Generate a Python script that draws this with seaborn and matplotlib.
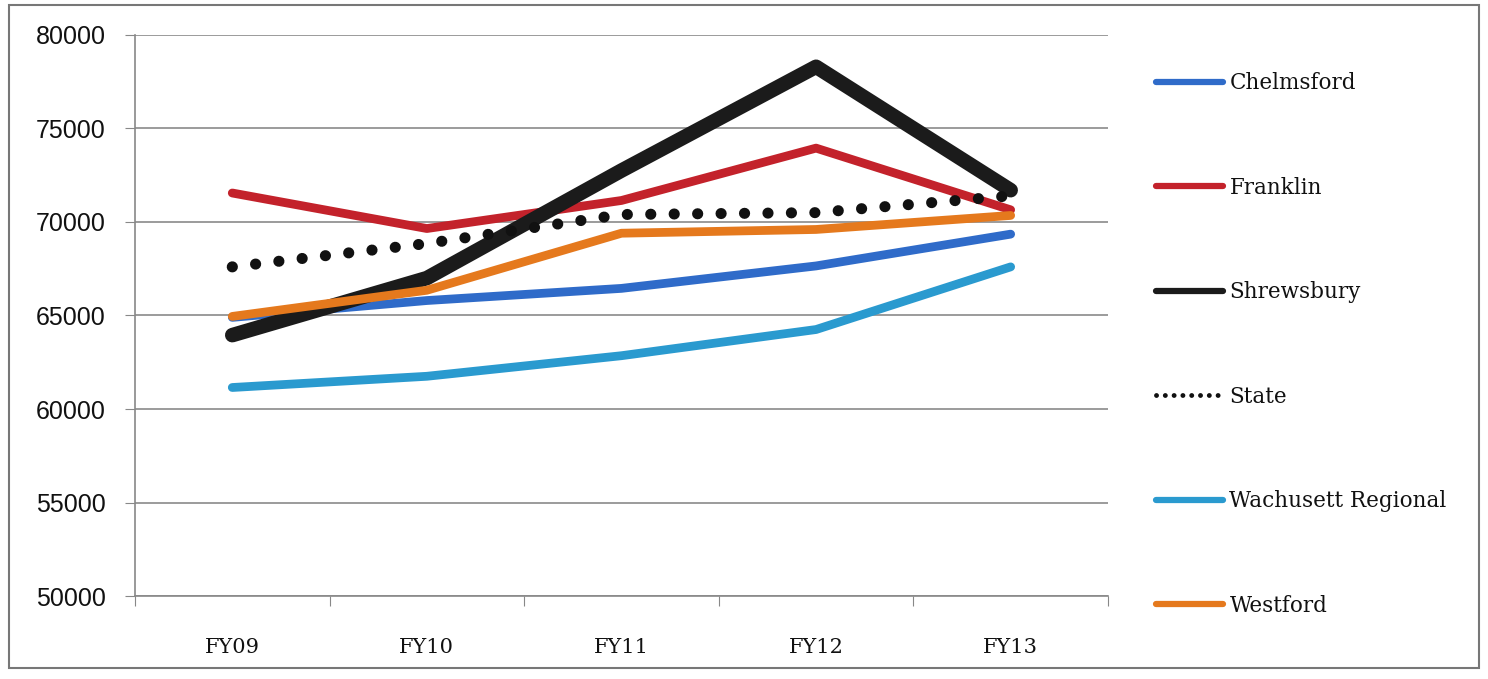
import pandas as pd
import seaborn as sns
import matplotlib.pyplot as plt
from matplotlib.lines import Line2D
from matplotlib.patches import Rectangle

# values
years = ["FY09", "FY10", "FY11", "FY12", "FY13"]
chelmsford = [64900, 65800, 66450, 67650, 69350]
franklin = [71550, 69650, 71150, 73950, 70650]
shrewsbury = [63950, 67000, 72750, 78300, 71700]
state = [67600, 68850, 70400, 70500, 71400]
wachusett = [61150, 61750, 62850, 64250, 67600]
westford = [64950, 66350, 69400, 69600, 70350]

names = ["Chelmsford", "Franklin", "Shrewsbury", "State", "Wachusett Regional", "Westford"]
series = [chelmsford, franklin, shrewsbury, state, wachusett, westford]
colors = ["#2F6BC9", "#C3222B", "#1B1B1B", "#111111", "#2A9ACF", "#E5791D"]

rows = []
for n, vals in zip(names, series):
    for i, v in enumerate(vals):
        rows.append({"district": n, "pos": i, "salary": v})
df = pd.DataFrame(rows)

sns.set_style("white")
plt.rcParams['font.family'] = ['DejaVu Serif']
plt.rcParams['text.color'] = '#111111'
plt.rcParams['xtick.labelcolor'] = '#111111'
plt.rcParams['ytick.labelcolor'] = '#111111'

fig = plt.figure(figsize=(14.88, 6.79), dpi=100)
ax = fig.add_axes([0.0907, 0.1222, 0.6539, 0.8263])

widths = {"Shrewsbury": 10.5}
for n, c in zip(names, colors):
    d = df[df["district"] == n]
    if n == "State":
        sns.lineplot(data=d, x="pos", y="salary", ax=ax, color=c, lw=8,
                     linestyle=(0, (0.01, 2.1)), dash_capstyle="round")
    else:
        sns.lineplot(data=d, x="pos", y="salary", ax=ax, color=c,
                     lw=widths.get(n, 6.3), solid_capstyle="round", solid_joinstyle="round")

ax.set_xlim(-0.5, 4.5)
ax.set_ylim(50000, 80000)
ax.set_yticks(range(50000, 80001, 5000))
ax.set_xticks([i - 0.5 for i in range(6)])
ax.set_xticklabels([])
ax.set_xticks(range(5), minor=True)
ax.set_xticklabels(years, minor=True, fontsize=15)
ax.tick_params(axis="x", which="major", length=7, direction="out", color="#888888", bottom=True)
ax.tick_params(axis="x", which="minor", length=0, pad=30)
ax.tick_params(axis="y", length=7, direction="out", color="#888888", left=True, labelsize=18, pad=14)
for lab in ax.get_yticklabels():
    lab.set_family("Liberation Sans")
ax.yaxis.grid(True, color="#8a8a8a", lw=1.2)
ax.set_axisbelow(True)
ax.set_xlabel("")
ax.set_ylabel("")
for s in ["top", "right"]:
    ax.spines[s].set_visible(False)
for s in ["left", "bottom"]:
    ax.spines[s].set_color("#888888")
    ax.spines[s].set_linewidth(1.2)

handles = []
for n, c in zip(names, colors):
    if n == "State":
        handles.append(Line2D([], [], color=c, lw=3.5, linestyle=(0, (0.01, 1.8)), dash_capstyle="round"))
    else:
        handles.append(Line2D([], [], color=c, lw=4.5, solid_capstyle="round"))
fig.legend(handles, names, loc="upper left", bbox_to_anchor=(0.764, 0.922), frameon=False,
           fontsize=15.5, handlelength=3.1, handletextpad=0.3, labelspacing=3.83)

fig.patches.append(Rectangle((0.006, 0.016), 0.988, 0.976, transform=fig.transFigure,
                             fill=False, edgecolor="#777777", lw=1.5))

fig.savefig("out.png", dpi=100)
